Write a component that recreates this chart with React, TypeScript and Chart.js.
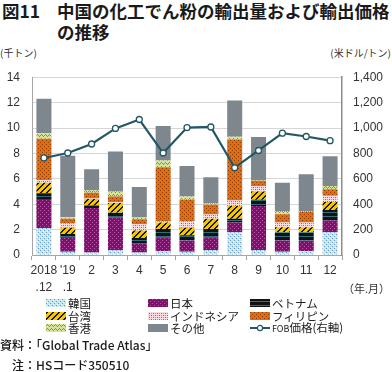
import React, { useEffect, useRef, useState } from "react";
import { Chart, registerables } from "chart.js";
Chart.register(...registerables);

// ---- data ----
const months: (string | string[])[] = [["2018", ".12"], ["'19", ".1"], "2", "3", "4", "5", "6", "7", "8", "9", "10", "11", "12"];
const korea = [2.13, 0.25, 0.2, 0.38, 0.2, 0.3, 0.25, 0.4, 1.8, 0.4, 0.25, 0.3, 1.8];
const japan = [2.28, 1.1, 3.5, 2.57, 0.7, 1.1, 0.9, 1.0, 0.76, 3.45, 0.9, 0.83, 0.94];
const vietnam = [0.46, 0.3, 0.2, 0.38, 0.43, 0.65, 0.4, 0.65, 0.3, 0.5, 0.65, 0.67, 0.8];
const taiwan = [0.82, 0.5, 0.5, 0.77, 0.6, 0.5, 0.6, 0.8, 1.0, 0.65, 0.38, 0.38, 0.64];
const indonesia = [0.21, 0.35, 0.05, 0.05, 0.5, 0.1, 0.5, 0.33, 0.43, 0.44, 0.38, 0.38, 0.49];
const philippines = [3.25, 0.35, 0.45, 0.45, 0.38, 4.25, 1.7, 0.77, 4.8, 0.4, 0.64, 0.82, 0.51];
const hongkong = [0.45, 0.15, 0.2, 0.4, 0.15, 0.55, 0.25, 0.13, 0.23, 0.05, 0.26, 0.08, 0.26];
const others = [2.7, 4.82, 1.65, 3.15, 2.4, 2.7, 2.4, 2.05, 2.85, 3.4, 2.23, 2.9, 2.33];
const fobPrice = [764, 803, 874, 997, 1067, 803, 1003, 1008, 687, 823, 959, 933, 900];

const leftMax = 14;
const leftStep = 2;
const rightMax = 1400;
const rightStep = 200;

type Kind = "korea" | "japan" | "vietnam" | "taiwan" | "indonesia" | "philippines" | "hongkong" | "others";

function makeTile(kind: Kind): HTMLCanvasElement {
  const c = document.createElement("canvas");
  const px = (ctx: CanvasRenderingContext2D, x: number, y: number, col: string) => {
    ctx.fillStyle = col;
    ctx.fillRect(x, y, 1, 1);
  };
  let ctx: CanvasRenderingContext2D;
  switch (kind) {
    case "korea": {
      c.width = 4; c.height = 4; ctx = c.getContext("2d")!;
      ctx.fillStyle = "#c4e4ee"; ctx.fillRect(0, 0, 4, 4);
      px(ctx, 0, 0, "#6b9dbd"); px(ctx, 2, 2, "#6b9dbd");
      px(ctx, 1, 3, "#ffffff"); px(ctx, 3, 1, "#ffffff");
      break;
    }
    case "japan": {
      c.width = 4; c.height = 4; ctx = c.getContext("2d")!;
      ctx.fillStyle = "#7c126c"; ctx.fillRect(0, 0, 4, 4);
      px(ctx, 0, 0, "#b45aa5"); px(ctx, 2, 2, "#b45aa5");
      break;
    }
    case "vietnam": {
      c.width = 4; c.height = 4; ctx = c.getContext("2d")!;
      ctx.fillStyle = "#121212"; ctx.fillRect(0, 0, 4, 4);
      ctx.fillStyle = "#2f6e7b"; ctx.fillRect(0, 2, 4, 1);
      break;
    }
    case "taiwan": {
      c.width = 6; c.height = 6; ctx = c.getContext("2d")!;
      for (let y = 0; y < 6; y++)
        for (let x = 0; x < 6; x++)
          px(ctx, x, y, (x + y) % 6 < 2 ? "#1a1a1a" : "#f6c400");
      break;
    }
    case "indonesia": {
      c.width = 4; c.height = 4; ctx = c.getContext("2d")!;
      ctx.fillStyle = "#f6dde2"; ctx.fillRect(0, 0, 4, 4);
      px(ctx, 1, 1, "#c0505a"); px(ctx, 3, 1, "#d98088"); px(ctx, 1, 3, "#d98088"); px(ctx, 3, 3, "#c0505a");
      break;
    }
    case "philippines": {
      c.width = 4; c.height = 4; ctx = c.getContext("2d")!;
      ctx.fillStyle = "#e46c0a"; ctx.fillRect(0, 0, 4, 4);
      px(ctx, 0, 0, "#8e3d08"); px(ctx, 2, 2, "#8e3d08");
      break;
    }
    case "hongkong": {
      c.width = 4; c.height = 4; ctx = c.getContext("2d")!;
      ctx.fillStyle = "#d6e39c"; ctx.fillRect(0, 0, 4, 4);
      px(ctx, 0, 1, "#7e9a35"); px(ctx, 1, 0, "#7e9a35"); px(ctx, 2, 1, "#7e9a35"); px(ctx, 3, 2, "#7e9a35");
      break;
    }
    default: {
      c.width = 2; c.height = 2; ctx = c.getContext("2d")!;
      ctx.fillStyle = "#7f878e"; ctx.fillRect(0, 0, 2, 2);
    }
  }
  return c;
}

const kinds: Kind[] = ["korea", "japan", "vietnam", "taiwan", "indonesia", "philippines", "hongkong", "others"];
const seriesNames: Record<Kind, string> = {
  korea: "韓国", japan: "日本", vietnam: "ベトナム", taiwan: "台湾",
  indonesia: "インドネシア", philippines: "フィリピン", hongkong: "香港", others: "その他",
};
const seriesData: Record<Kind, number[]> = {
  korea, japan, vietnam, taiwan, indonesia, philippines, hongkong, others,
};
const lineColor = "#245766";
const JP = "'Noto Sans CJK JP', sans-serif";
const NUM = "'Liberation Sans', Arial, sans-serif";

export default function App() {
  const ref = useRef<HTMLCanvasElement>(null);
  const [sw, setSw] = useState<Record<string, string>>({});

  useEffect(() => {
    const canvas = ref.current!;
    const ctx = canvas.getContext("2d")!;
    const tiles: Record<string, HTMLCanvasElement> = {};
    kinds.forEach((k) => (tiles[k] = makeTile(k)));
    const datasets: any[] = kinds.map((k) => ({
      type: "bar",
      label: seriesNames[k],
      data: seriesData[k],
      backgroundColor: ctx.createPattern(tiles[k], "repeat"),
      borderWidth: 0,
      yAxisID: "y",
      stack: "s",
      order: 1,
      barPercentage: 0.63,
      categoryPercentage: 1,
    }));
    datasets.push({
      type: "line",
      label: "FOB価格（右軸）",
      data: fobPrice,
      yAxisID: "y1",
      borderColor: lineColor,
      borderWidth: 2.2,
      pointRadius: 3,
      pointBackgroundColor: "#ffffff",
      pointBorderColor: lineColor,
      pointBorderWidth: 1.3,
      tension: 0,
      order: 0,
    });
    const chart = new Chart(canvas, {
      type: "bar",
      data: { labels: months as any, datasets },
      options: {
        animation: false,
        responsive: true,
        maintainAspectRatio: false,
        layout: { padding: { top: 15, left: 0, right: 0, bottom: 0 } },
        plugins: { legend: { display: false }, tooltip: { enabled: false } },
        scales: {
          x: {
            stacked: true,
            offset: true,
            grid: { display: true, drawOnChartArea: false, drawTicks: true, tickLength: 5, color: "#a6a6a6", offset: true },
            border: { display: true, color: "#a6a6a6" },
            ticks: { font: { family: NUM, size: 12, lineHeight: 1.4 }, color: "#333333", padding: 2, maxRotation: 0, autoSkip: false },
            afterFit: (s: any) => { s.height = 43; },
          },
          y: {
            stacked: true,
            position: "left",
            min: 0,
            max: leftMax,
            grid: { color: "#d6d6d6", drawTicks: false },
            border: { display: true, color: "#a6a6a6" },
            ticks: { stepSize: leftStep, font: { family: NUM, size: 12 }, color: "#333333", padding: 12 },
            afterFit: (s: any) => { s.width = 32; },
          },
          y1: {
            position: "right",
            min: 0,
            max: rightMax,
            grid: { drawOnChartArea: false, drawTicks: false },
            border: { display: true, color: "#8c8c8c", width: 1.5 },
            ticks: {
              stepSize: rightStep,
              font: { family: NUM, size: 12 },
              color: "#333333",
              padding: 11,
              callback: (v: any) => Number(v).toLocaleString("en-US"),
            },
            afterFit: (s: any) => { s.width = 50; },
          },
        },
      } as any,
    });
    const urls: Record<string, string> = {};
    kinds.forEach((k) => (urls[k] = tiles[k].toDataURL()));
    setSw(urls);
    return () => chart.destroy();
  }, []);

  const legendRows: (Kind | "fob")[][] = [
    ["korea", "japan", "vietnam"],
    ["taiwan", "indonesia", "philippines"],
    ["hongkong", "others", "fob"],
  ];
  const colX = [46, 148, 250];
  const rowY = [303, 315.5, 328];

  return (
    <div style={{ position: "absolute", left: 0, top: 0, width: 392, height: 372, background: "#fff", fontFamily: JP, color: "#1a1a1a", overflow: "hidden" }}>
      <div style={{ position: "absolute", left: 2, top: 0, fontSize: 17.5, fontWeight: 700, lineHeight: "21px", whiteSpace: "nowrap" }}>図11</div>
      <div style={{ position: "absolute", left: 57, top: 0, fontSize: 17.5, fontWeight: 700, lineHeight: "21px", whiteSpace: "nowrap" }}>
        <div>中国の化工でん粉の輸出量および輸出価格</div>
        <div>の推移</div>
      </div>
      <div style={{ position: "absolute", left: 0, top: 47, fontSize: 10, lineHeight: "12px", color: "#333" }}>(千トン)</div>
      <div style={{ position: "absolute", right: 1, top: 47, fontSize: 10, lineHeight: "12px", color: "#333" }}>(米ドル/トン)</div>
      <div style={{ position: "absolute", left: 0, top: 58, width: 392, height: 240 }}>
        <canvas ref={ref} style={{ width: "100%", height: "100%" }} />
      </div>
      <div style={{ position: "absolute", right: 2, top: 280, fontSize: 11, lineHeight: "16px", color: "#333" }}>（年.月）</div>
      {legendRows.map((row, ri) =>
        row.map((k, ci) => (
          <div key={k} style={{ position: "absolute", left: colX[ci], top: rowY[ri] - 7, height: 14, display: "flex", alignItems: "center", fontSize: 11.5, lineHeight: "14px", whiteSpace: "nowrap", color: "#222" }}>
            {k === "fob" ? (
              <>
                <svg width={20} height={8} style={{ marginRight: 2 }}>
                  <line x1={0} y1={4} x2={20} y2={4} stroke={lineColor} strokeWidth={2} />
                  <circle cx={10} cy={4} r={2.6} fill="#fff" stroke={lineColor} strokeWidth={1.2} />
                </svg>
                <span><span style={{ fontSize: 9 }}>FOB</span>価格(右軸)</span>
              </>
            ) : (
              <>
                <div style={{ width: 20, height: 8, marginRight: 2, backgroundImage: sw[k] ? `url(${sw[k]})` : undefined, backgroundRepeat: "repeat" }} />
                <span>{seriesNames[k]}</span>
              </>
            )}
          </div>
        ))
      )}
      <div style={{ position: "absolute", left: 0, top: 337, fontSize: 12, lineHeight: "16px", whiteSpace: "nowrap", fontWeight: 500 }}>資料：「Global Trade Atlas」</div>
      <div style={{ position: "absolute", left: 12, top: 357, fontSize: 12, lineHeight: "16px", whiteSpace: "nowrap", fontWeight: 500 }}>注：HSコード350510</div>
    </div>
  );
}
